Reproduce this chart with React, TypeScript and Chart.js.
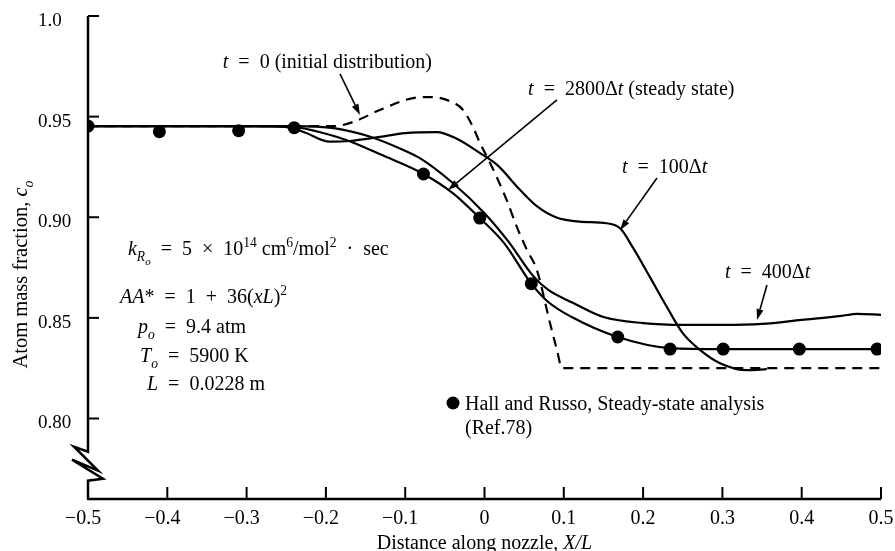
import React, { useEffect, useRef } from 'react';
import { Chart, registerables } from 'chart.js';

Chart.register(...registerables);

// ---------------- data ----------------
const xTickValues = [-0.5, -0.4, -0.3, -0.2, -0.1, 0, 0.1, 0.2, 0.3, 0.4, 0.5];
const xTickLabels = ['−0.5', '−0.4', '−0.3', '−0.2', '−0.1', '0', '0.1', '0.2', '0.3', '0.4', '0.5'];
const yTickValues = [0.8, 0.85, 0.9, 0.95, 1.0];
const yTickLabels = ['0.80', '0.85', '0.90', '0.95', '1.0'];

// t = 0 (initial distribution), dashed
const initX = [-0.5, -0.19, -0.166, -0.132, -0.09, -0.069, -0.047, -0.027, -0.0145, -0.0057, 0.0095, 0.028, 0.041, 0.0536, 0.066, 0.0826, 0.0914, 0.0977, 0.5];
const initY = [0.9453, 0.9453, 0.9473, 0.9533, 0.9592, 0.9597, 0.9582, 0.9533, 0.9448, 0.9369, 0.925, 0.9085, 0.895, 0.8837, 0.8738, 0.8474, 0.834, 0.825, 0.825];

// t = 100 Δt
const t100X = [-0.5, -0.26, -0.229, -0.195, -0.17, -0.132, -0.1, -0.06, -0.035, -0.006, 0.016, 0.045, 0.066, 0.09, 0.12, 0.154, 0.171, 0.187, 0.209, 0.23, 0.25, 0.272, 0.297, 0.331, 0.356];
const t100Y = [0.9453, 0.9453, 0.9425, 0.9376, 0.9379, 0.9399, 0.9418, 0.9423, 0.939, 0.932, 0.926, 0.9135, 0.9055, 0.9, 0.8978, 0.897, 0.8945, 0.885, 0.87, 0.8554, 0.8424, 0.834, 0.8275, 0.824, 0.8245];

// t = 400 Δt
const t400X = [-0.5, -0.24, -0.19, -0.144, -0.103, -0.08, -0.04, 0, 0.03, 0.061, 0.08, 0.112, 0.15, 0.2, 0.25, 0.3, 0.35, 0.4, 0.45, 0.47, 0.5];
const t400Y = [0.9453, 0.9453, 0.9443, 0.94, 0.9335, 0.929, 0.917, 0.902, 0.888, 0.871, 0.864, 0.8574, 0.8504, 0.8474, 0.8465, 0.8465, 0.847, 0.849, 0.851, 0.852, 0.8515];

// t = 2800 Δt (steady state)
const steadyX = [-0.5, -0.3, -0.24, -0.2, -0.17, -0.13, -0.077, -0.04, -0.006, 0.025, 0.059, 0.08, 0.11, 0.168, 0.234, 0.3, 0.5];
const steadyY = [0.9453, 0.9453, 0.9448, 0.9415, 0.9378, 0.931, 0.9215, 0.912, 0.8996, 0.887, 0.867, 0.858, 0.8504, 0.8405, 0.835, 0.8345, 0.8345];

// Hall and Russo, steady-state analysis (Ref. 78)
const hallX = [-0.5, -0.41, -0.31, -0.24, -0.077, -0.006, 0.059, 0.168, 0.234, 0.301, 0.397, 0.495];
const hallY = [0.9453, 0.9425, 0.943, 0.9445, 0.9215, 0.8996, 0.867, 0.8405, 0.8345, 0.8345, 0.8345, 0.8345];

// ---------------- text ----------------
type Seg = { t: string; i?: boolean; s?: number };
const SP = '\u2002'; // en space used around math operators

const labelT0: Seg[] = [{ t: 't', i: true }, { t: `${SP}=${SP}0 (initial distribution)` }];
const labelT2800: Seg[] = [{ t: 't', i: true }, { t: `${SP}=${SP}2800Δ` }, { t: 't', i: true }, { t: ' (steady state)' }];
const labelT100: Seg[] = [{ t: 't', i: true }, { t: `${SP}=${SP}100Δ` }, { t: 't', i: true }];
const labelT400: Seg[] = [{ t: 't', i: true }, { t: `${SP}=${SP}400Δ` }, { t: 't', i: true }];
const labelK: Seg[] = [
  { t: 'k', i: true }, { t: 'R', i: true, s: -1 }, { t: 'o', i: true, s: -2 },
  { t: `${SP}=${SP}5${SP}×${SP}10` }, { t: '14', s: 1 }, { t: ' cm' }, { t: '6', s: 1 }, { t: '/mol' }, { t: '2', s: 1 }, { t: `${SP}·${SP}sec` },
];
const labelAA: Seg[] = [{ t: 'AA', i: true }, { t: `*${SP}=${SP}1${SP}+${SP}36(` }, { t: 'xL', i: true }, { t: ')' }, { t: '2', s: 1 }];
const labelP: Seg[] = [{ t: 'p', i: true }, { t: 'o', i: true, s: -1 }, { t: `${SP}=${SP}9.4 atm` }];
const labelTo: Seg[] = [{ t: 'T', i: true }, { t: 'o', i: true, s: -1 }, { t: `${SP}=${SP}5900 K` }];
const labelL: Seg[] = [{ t: 'L', i: true }, { t: `${SP}=${SP}0.0228 m` }];
const legendLine1: Seg[] = [{ t: 'Hall and Russo, Steady-state analysis' }];
const legendLine2: Seg[] = [{ t: '(Ref.78)' }];
const xTitle: Seg[] = [{ t: 'Distance along nozzle, ' }, { t: 'X/L', i: true }];
const yTitle: Seg[] = [{ t: 'Atom mass fraction, ' }, { t: 'c', i: true }, { t: 'o', i: true, s: -1 }];

// annotation anchors (data coordinates: left edge, baseline)
const textItems: { segs: Seg[]; x: number; y: number }[] = [
  { segs: labelT0, x: -0.33, y: 0.9742 },
  { segs: labelT2800, x: 0.055, y: 0.9607 },
  { segs: labelT100, x: 0.1734, y: 0.922 },
  { segs: labelT400, x: 0.3033, y: 0.8698 },
  { segs: labelK, x: -0.4496, y: 0.8812 },
  { segs: labelAA, x: -0.4596, y: 0.8574 },
  { segs: labelP, x: -0.4369, y: 0.84245 },
  { segs: labelTo, x: -0.4344, y: 0.828 },
  { segs: labelL, x: -0.4256, y: 0.8141 },
  { segs: legendLine1, x: -0.0246, y: 0.8042 },
  { segs: legendLine2, x: -0.0246, y: 0.79225 },
];
const arrows: number[][] = [
  [-0.1822, 0.9712, -0.157, 0.9508],
  [0.0914, 0.9583, -0.046, 0.9135],
  [0.2175, 0.9195, 0.1709, 0.8936],
  [0.3562, 0.8663, 0.3436, 0.8489],
];
const legendDot = { x: -0.0397, y: 0.8077 };
const breakTop = 0.7835;

const FONT_FAMILY = '"Liberation Serif", "DejaVu Serif", serif';
const TEXT_SIZE = 20;

function segFont(seg: Seg, size: number) {
  const lvl = seg.s || 0;
  const sz = lvl === 0 ? size : Math.abs(lvl) === 1 ? size * 0.68 : size * 0.55;
  return `${seg.i ? 'italic ' : ''}${sz}px ${FONT_FAMILY}`;
}
function segOffset(seg: Seg, size: number) {
  const lvl = seg.s || 0;
  if (lvl === 1) return -size * 0.4;
  if (lvl === -1) return size * 0.28;
  if (lvl === -2) return size * 0.48;
  return 0;
}
function drawRich(ctx: CanvasRenderingContext2D, segs: Seg[], x: number, y: number, size: number, align: 'left' | 'center') {
  let total = 0;
  const widths = segs.map((sg) => {
    ctx.font = segFont(sg, size);
    const w = ctx.measureText(sg.t).width;
    total += w;
    return w;
  });
  let cx = align === 'center' ? x - total / 2 : x;
  ctx.textAlign = 'left';
  ctx.textBaseline = 'alphabetic';
  segs.forEach((sg, k) => {
    ctx.font = segFont(sg, size);
    ctx.fillText(sg.t, cx, y + segOffset(sg, size));
    cx += widths[k];
  });
}

const overlayPlugin = {
  id: 'overlay',
  afterDraw(chart: any) {
    const ctx: CanvasRenderingContext2D = chart.ctx;
    const xs = chart.scales.x;
    const ys = chart.scales.y;
    const X = (v: number) => xs.getPixelForValue(v);
    const Y = (v: number) => ys.getPixelForValue(v);
    const { left, right, top, bottom } = chart.chartArea;
    ctx.save();
    ctx.strokeStyle = '#000';
    ctx.fillStyle = '#000';
    ctx.lineWidth = 2.5;
    ctx.lineJoin = 'miter';
    // x axis
    ctx.beginPath();
    ctx.moveTo(left - 1, bottom);
    ctx.lineTo(right, bottom);
    ctx.stroke();
    // y axis with break symbol
    const bt = Y(breakTop);
    ctx.beginPath();
    ctx.moveTo(left, top);
    ctx.lineTo(left, bt);
    ctx.lineTo(left - 14, bt - 5);
    ctx.lineTo(left + 10, bt + 19);
    ctx.lineTo(left - 16, bt + 8);
    ctx.lineTo(left + 15, bt + 27);
    ctx.lineTo(left, bt + 29);
    ctx.lineTo(left, bottom);
    ctx.stroke();
    // inward ticks
    ctx.lineWidth = 2;
    xTickValues.forEach((v) => {
      ctx.beginPath();
      ctx.moveTo(X(v), bottom);
      ctx.lineTo(X(v), bottom - 12);
      ctx.stroke();
    });
    yTickValues.forEach((v) => {
      ctx.beginPath();
      ctx.moveTo(left, Y(v));
      ctx.lineTo(left + 11, Y(v));
      ctx.stroke();
    });
    // arrows
    ctx.lineWidth = 1.6;
    arrows.forEach(([x1, y1, x2, y2]) => {
      const p1 = [X(x1), Y(y1)];
      const p2 = [X(x2), Y(y2)];
      const ang = Math.atan2(p2[1] - p1[1], p2[0] - p1[0]);
      const len = 11;
      const hw = 3.5;
      const bx = p2[0] - len * Math.cos(ang);
      const by = p2[1] - len * Math.sin(ang);
      ctx.beginPath();
      ctx.moveTo(p1[0], p1[1]);
      ctx.lineTo(bx, by);
      ctx.stroke();
      ctx.beginPath();
      ctx.moveTo(p2[0], p2[1]);
      ctx.lineTo(bx + hw * Math.sin(ang), by - hw * Math.cos(ang));
      ctx.lineTo(bx - hw * Math.sin(ang), by + hw * Math.cos(ang));
      ctx.closePath();
      ctx.fill();
    });
    // legend dot
    ctx.beginPath();
    ctx.arc(X(legendDot.x), Y(legendDot.y), 6.5, 0, Math.PI * 2);
    ctx.fill();
    // annotation texts
    textItems.forEach((it) => drawRich(ctx, it.segs, X(it.x), Y(it.y), TEXT_SIZE, 'left'));
    // axis titles
    drawRich(ctx, xTitle, X(0), bottom + 50, TEXT_SIZE, 'center');
    ctx.translate(27, (top + bottom) / 2 + 17);
    ctx.rotate(-Math.PI / 2);
    drawRich(ctx, yTitle, 0, 0, 20.5, 'center');
    ctx.restore();
  },
};

const pts = (xs: number[], ys: number[]) => xs.map((x, i) => ({ x, y: ys[i] }));

export default function App() {
  const ref = useRef<HTMLCanvasElement | null>(null);
  useEffect(() => {
    if (!ref.current) return;
    const lineStyle = {
      borderColor: '#000',
      borderWidth: 2.2,
      pointRadius: 0,
      fill: false,
      cubicInterpolationMode: 'monotone' as const,
    };
    const chart = new Chart(ref.current, {
      type: 'line',
      data: {
        datasets: [
          { label: 't = 0 (initial distribution)', data: pts(initX, initY), ...lineStyle, borderDash: [10, 7] },
          { label: 't = 100Δt', data: pts(t100X, t100Y), ...lineStyle },
          { label: 't = 400Δt', data: pts(t400X, t400Y), ...lineStyle },
          { label: 't = 2800Δt (steady state)', data: pts(steadyX, steadyY), ...lineStyle },
          {
            label: 'Hall and Russo, Steady-state analysis',
            data: pts(hallX, hallY),
            showLine: false,
            pointRadius: 6.5,
            pointBackgroundColor: '#000',
            pointBorderWidth: 0,
            borderColor: '#000',
          },
        ],
      } as any,
      options: {
        animation: false,
        responsive: false,
        devicePixelRatio: 1,
        layout: { padding: { left: 38, top: 16, right: 14, bottom: 0 } },
        plugins: { legend: { display: false }, tooltip: { enabled: false } },
        scales: {
          x: {
            type: 'linear',
            min: -0.5,
            max: 0.5,
            afterBuildTicks: (s: any) => {
              s.ticks = xTickValues.map((v) => ({ value: v }));
            },
            afterFit: (s: any) => {
              s.height = 52;
            },
            ticks: {
              autoSkip: false,
              maxRotation: 0,
              padding: 0,
              color: '#000',
              font: { family: FONT_FAMILY, size: 20 },
              // trailing en space balances the minus sign so the digits sit centred on the tick
              callback: (_v: any, i: number) => (xTickLabels[i].startsWith('−') ? xTickLabels[i] + '\u2002' : xTickLabels[i]),
            },
            grid: { display: false },
            border: { display: false },
          },
          y: {
            type: 'linear',
            min: 0.76,
            max: 1.0,
            afterBuildTicks: (s: any) => {
              s.ticks = yTickValues.map((v) => ({ value: v }));
            },
            afterFit: (s: any) => {
              s.width = 50;
            },
            ticks: {
              crossAlign: 'far',
              labelOffset: 5,
              color: '#000',
              font: { family: FONT_FAMILY, size: 19 },
              callback: (_v: any, i: number) => yTickLabels[i],
            },
            grid: { display: false },
            border: { display: false },
          },
        },
      } as any,
      plugins: [overlayPlugin],
    });
    return () => chart.destroy();
  }, []);
  return (
    <div style={{ position: 'fixed', left: 0, top: 0, width: 895, height: 551, background: '#fff' }}>
      <canvas ref={ref} width={895} height={551} style={{ display: 'block' }} />
    </div>
  );
}
